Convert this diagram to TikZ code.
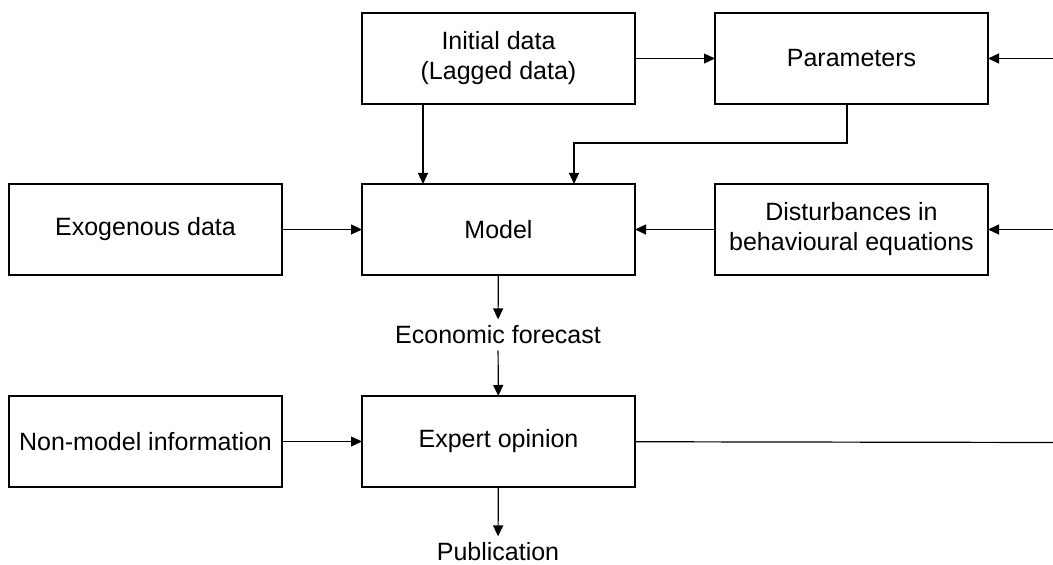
\documentclass[tikz,border=0pt]{standalone}
\usepackage{fontspec}
\setmainfont{Liberation Sans}
\usetikzlibrary{positioning,arrows.meta}
\begin{document}
\begin{tikzpicture}[x=0.5pt,y=-0.5pt,
  box/.style={draw, line width=0.6pt, outer sep=0pt, minimum width=136.5pt, minimum height=45.5pt, align=center, font=\fontsize{12.5}{15}\selectfont},
  lbl/.style={inner sep=3pt, font=\fontsize{12.5}{15}\selectfont},
  arr/.style={line width=0.6pt, -{Triangle[length=5.5pt,width=5pt]}},
  node distance=40pt]
\useasboundingbox (0,0) rectangle (1053,565);

%top row
\node [box] (init) at (498.5,58.5) {Initial data\\(Lagged data)};
\node [box, right=40pt of init] (param) {Parameters};

%middle row
\node [box, below=40pt of init] (model) {Model};
\node [box, left=40pt of model] (exo) {Exogenous data};
\node [box, right=40pt of model] (dist) {Disturbances in\\behavioural equations};
\node [lbl] (fcst) at (498,335) {Economic forecast};

%bottom row
\node [box, below=60.5pt of model] (expert) {Expert opinion};
\node [box, left=40pt of expert] (nonmod) {Non-model information};
\node [lbl] (pub) at (498,552) {Publication};

%loose ends at the right border
\coordinate (edgeA) at (1053,58.5);
\coordinate (edgeB) at (1053,229.5);
\coordinate (edgeC) at (1053,442.5);

\draw [arr] (init) -- (param);
\draw [arr] (edgeA) -- (param);
\draw [arr] (edgeB) -- (dist.east |- edgeB);
\draw [arr] ([xshift=-37.75pt]init.south) -- ([xshift=-37.75pt]model.north);
\draw [arr] ([xshift=-2.25pt]param.south) -- ++(0,39) -| ([xshift=37.75pt]model.north);
\draw [arr] (exo) -- (model);
\draw [arr] (dist) -- (model);
\draw [arr] (model) -- (fcst);
\draw [arr] (fcst) -- (expert);
\draw [arr] (nonmod) -- (expert);
\draw [line width=0.6pt] (expert) -- (edgeC);
\draw [arr] (expert) -- (pub);

\end{tikzpicture}
\end{document}
